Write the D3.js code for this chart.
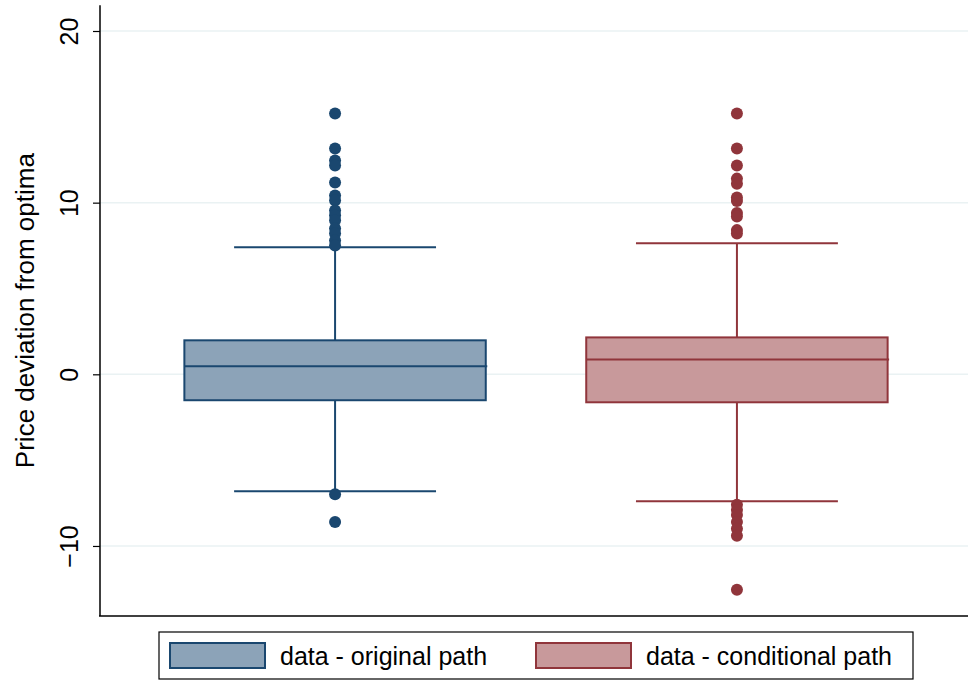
<!DOCTYPE html>
<html><head><meta charset="utf-8">
<script src="https://cdn.jsdelivr.net/npm/d3@7"></script>
<style>body{margin:0;background:#fff;} svg{display:block;font-family:"Liberation Sans",Arial,sans-serif;}</style>
</head><body><div id="chart"></div>
<script>
const categories = ["data - original path", "data - conditional path"];
const q1 = [-1.51, -1.63];
const median = [0.47, 0.87];
const q3 = [1.98, 2.15];
const whiskerLow = [-6.81, -7.40];
const whiskerHigh = [7.40, 7.63];
const outliers = [
  [15.2, 13.16, 12.46, 12.17, 11.18, 10.42, 10.13, 9.55, 9.26, 8.97, 8.5, 8.21, 7.8, 7.51, -6.99, -8.6],
  [15.2, 13.16, 12.17, 11.4, 11.1, 10.3, 10.1, 9.4, 9.2, 8.4, 8.2, -7.6, -7.9, -8.2, -8.6, -9.0, -9.4, -12.55]
];
const yTicks = [-10, 0, 10, 20];
const yTitle = "Price deviation from optima";
const strokeColors = ["#1a476f", "#90353b"];
const fillColors = ["#8ca3b8", "#c8999b"];

const W = 968, H = 681;
const svg = d3.select("#chart").append("svg").attr("width", W).attr("height", H);

const y = d3.scaleLinear().domain([-14.08, 21.5]).range([616, 5.25]);
const x = d3.scaleBand().domain(categories).range([104, 968]).paddingInner(0.25).paddingOuter(0.2);

// gridlines
svg.append("g").selectAll("line").data(yTicks).join("line")
  .attr("x1", 100).attr("x2", W).attr("y1", d => y(d)).attr("y2", d => y(d))
  .attr("stroke", "#eaf2f3").attr("stroke-width", 1.5);

// axes
const yAxis = d3.axisLeft(y).tickValues(yTicks).tickSize(7).tickPadding(10).tickFormat(d3.format("d"));
const gy = svg.append("g").attr("transform", "translate(100,0)").call(yAxis);
gy.select(".domain").attr("stroke", "#000").attr("stroke-width", 1.5).attr("d", `M0,${y.range()[1]}V${y.range()[0]}`);
gy.selectAll(".tick line").attr("stroke", "#000").attr("stroke-width", 1.2);
gy.selectAll(".tick text")
  .attr("font-size", 25).attr("fill", "#000").attr("font-family", "Liberation Sans, Arial, sans-serif")
  .attr("x", 0).attr("y", 0).attr("dy", "-0.1em").attr("text-anchor", "middle")
  .attr("transform", "translate(-20,0) rotate(-90)");

// bottom axis line
svg.append("line").attr("x1", 99).attr("x2", W).attr("y1", y.range()[0]).attr("y2", y.range()[0])
  .attr("stroke", "#000").attr("stroke-width", 1.5);

// y title
svg.append("text").attr("transform", `translate(34,${(y(-14.08)+y(21.5))/2}) rotate(-90)`)
  .attr("text-anchor", "middle").attr("font-size", 26).text(yTitle);

// boxes
const bw = x.bandwidth();
categories.forEach((c, i) => {
  const g = svg.append("g");
  const cx = x(c) + bw / 2;
  const sc = strokeColors[i];
  g.append("line").attr("x1", cx).attr("x2", cx).attr("y1", y(q3[i])).attr("y2", y(whiskerHigh[i])).attr("stroke", sc).attr("stroke-width", 2);
  g.append("line").attr("x1", cx).attr("x2", cx).attr("y1", y(q1[i])).attr("y2", y(whiskerLow[i])).attr("stroke", sc).attr("stroke-width", 2);
  const capW = bw * 0.67;
  [whiskerHigh[i], whiskerLow[i]].forEach(v => {
    g.append("line").attr("x1", cx - capW/2).attr("x2", cx + capW/2).attr("y1", y(v)).attr("y2", y(v)).attr("stroke", sc).attr("stroke-width", 2);
  });
  g.append("rect").attr("x", x(c)).attr("width", bw).attr("y", y(q3[i])).attr("height", y(q1[i]) - y(q3[i]))
    .attr("fill", fillColors[i]).attr("stroke", sc).attr("stroke-width", 2);
  g.append("line").attr("x1", x(c)).attr("x2", x(c) + bw + 1.5).attr("y1", y(median[i])).attr("y2", y(median[i]))
    .attr("stroke", sc).attr("stroke-width", 2);
  g.selectAll("circle").data(outliers[i]).join("circle")
    .attr("cx", cx).attr("cy", d => y(d)).attr("r", 6).attr("fill", sc);
});

// legend
const lg = svg.append("g");
lg.append("rect").attr("x", 159).attr("y", 632).attr("width", 754).attr("height", 47)
  .attr("fill", "#fff").attr("stroke", "#000").attr("stroke-width", 1.2);
const legX = [170, 536];
categories.forEach((c, i) => {
  lg.append("rect").attr("x", legX[i]).attr("y", 643).attr("width", 95).attr("height", 25)
    .attr("fill", fillColors[i]).attr("stroke", strokeColors[i]).attr("stroke-width", 2);
  lg.append("text").attr("x", legX[i] + 110).attr("y", 665).attr("font-size", 25).text(c);
});
</script></body></html>
